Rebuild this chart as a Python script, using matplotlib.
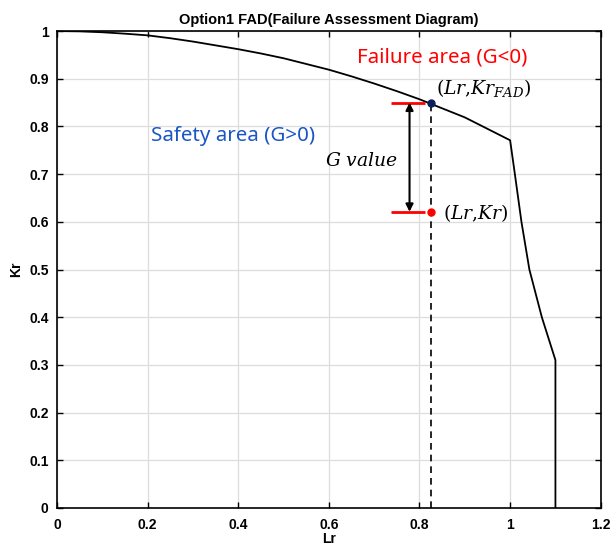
import matplotlib.pyplot as plt

plt.rcParams['mathtext.fontset'] = 'dejavuserif'

# FAD curve
lr_fad = [0.0, 0.05, 0.1, 0.15, 0.2, 0.25, 0.3, 0.35, 0.4, 0.45, 0.5,
          0.55, 0.6, 0.65, 0.7, 0.75, 0.8, 0.85, 0.9, 0.95, 0.975, 1.0,
          1.0105, 1.025, 1.0425, 1.07, 1.1, 1.1]
kr_fad = [1.0, 0.9994, 0.9975, 0.9945, 0.991, 0.985, 0.978, 0.970, 0.962, 0.953, 0.943,
          0.931, 0.919, 0.905, 0.890, 0.874, 0.857, 0.838, 0.819, 0.795, 0.783, 0.771,
          0.70, 0.60, 0.50, 0.40, 0.31, 0.0]

# assessment point and its FAD point
lr_pt = 0.826
kr_pt = 0.621
kr_on_fad = 0.850

xticks = [0, 0.2, 0.4, 0.6, 0.8, 1, 1.2]
xtick_labels = ['0', '0.2', '0.4', '0.6', '0.8', '1', '1.2']
yticks = [0, 0.1, 0.2, 0.3, 0.4, 0.5, 0.6, 0.7, 0.8, 0.9, 1]
ytick_labels = ['0', '0.1', '0.2', '0.3', '0.4', '0.5', '0.6', '0.7', '0.8', '0.9', '1']

fig = plt.figure(figsize=(6.13, 5.45), dpi=100)
ax = fig.add_axes([0.093, 0.068, 0.887, 0.875])

ax.plot(lr_fad, kr_fad, color='black', lw=1.3)

ax.set_xlim(0, 1.2)
ax.set_ylim(0, 1)
ax.set_xticks(xticks)
ax.set_xticklabels(xtick_labels)
ax.set_yticks(yticks)
ax.set_yticklabels(ytick_labels)
ax.grid(True, color='#dddddd', lw=0.9)
ax.tick_params(direction='in', top=True, right=True, length=4, width=1,
               labelsize=10)
ax.tick_params(axis='x', pad=7)
ax.tick_params(axis='y', pad=6)
for lab in ax.get_xticklabels() + ax.get_yticklabels():
    lab.set_fontweight('bold')
    lab.set_family('Liberation Sans')
for s in ax.spines.values():
    s.set_linewidth(1.2)

ax.set_title('Option1 FAD(Failure Assessment Diagram)', fontsize=10.5,
             family='Liberation Sans', fontweight='bold', pad=5)
ax.set_xlabel('Lr', fontsize=10, family='Liberation Sans', fontweight='bold',
              labelpad=0)
ax.set_ylabel('Kr', fontsize=10, family='Liberation Sans', fontweight='bold',
              labelpad=4)

# dashed drop line and markers
ax.plot([lr_pt, lr_pt], [0, kr_on_fad], color='black', ls=(0, (4, 3)), lw=1.2)
ax.hlines([kr_on_fad, kr_pt], 0.737, 0.813, color='red', lw=2)
ax.plot([lr_pt], [kr_on_fad], 'o', color='#0b1f5c', ms=5)
ax.plot([lr_pt], [kr_pt], 'o', color='red', ms=5)
ax.annotate('', xy=(0.778, kr_pt), xytext=(0.778, kr_on_fad),
            arrowprops=dict(arrowstyle='<|-|>', color='black', lw=1.5,
                            mutation_scale=11, shrinkA=0, shrinkB=0))

ax.text(0.849, 0.944, 'Failure area (G<0)', color='red', fontsize=14.8,
        family='Noto Sans', ha='center', va='center')
ax.text(0.388, 0.780, 'Safety area (G>0)', color='#1a56c4', fontsize=14.8,
        family='Noto Sans', ha='center', va='center')
ax.text(0.672, 0.729, r'$G\ value$', color='black', fontsize=13.5,
        ha='center', va='center')
ax.text(0.837, 0.880, r'$(Lr{,}Kr_{FAD})$', color='black', fontsize=13.5,
        ha='left', va='center')
ax.text(0.851, 0.619, r'$(Lr{,}Kr)$', color='black', fontsize=13.5,
        ha='left', va='center')

fig.savefig('out.png', dpi=100)
